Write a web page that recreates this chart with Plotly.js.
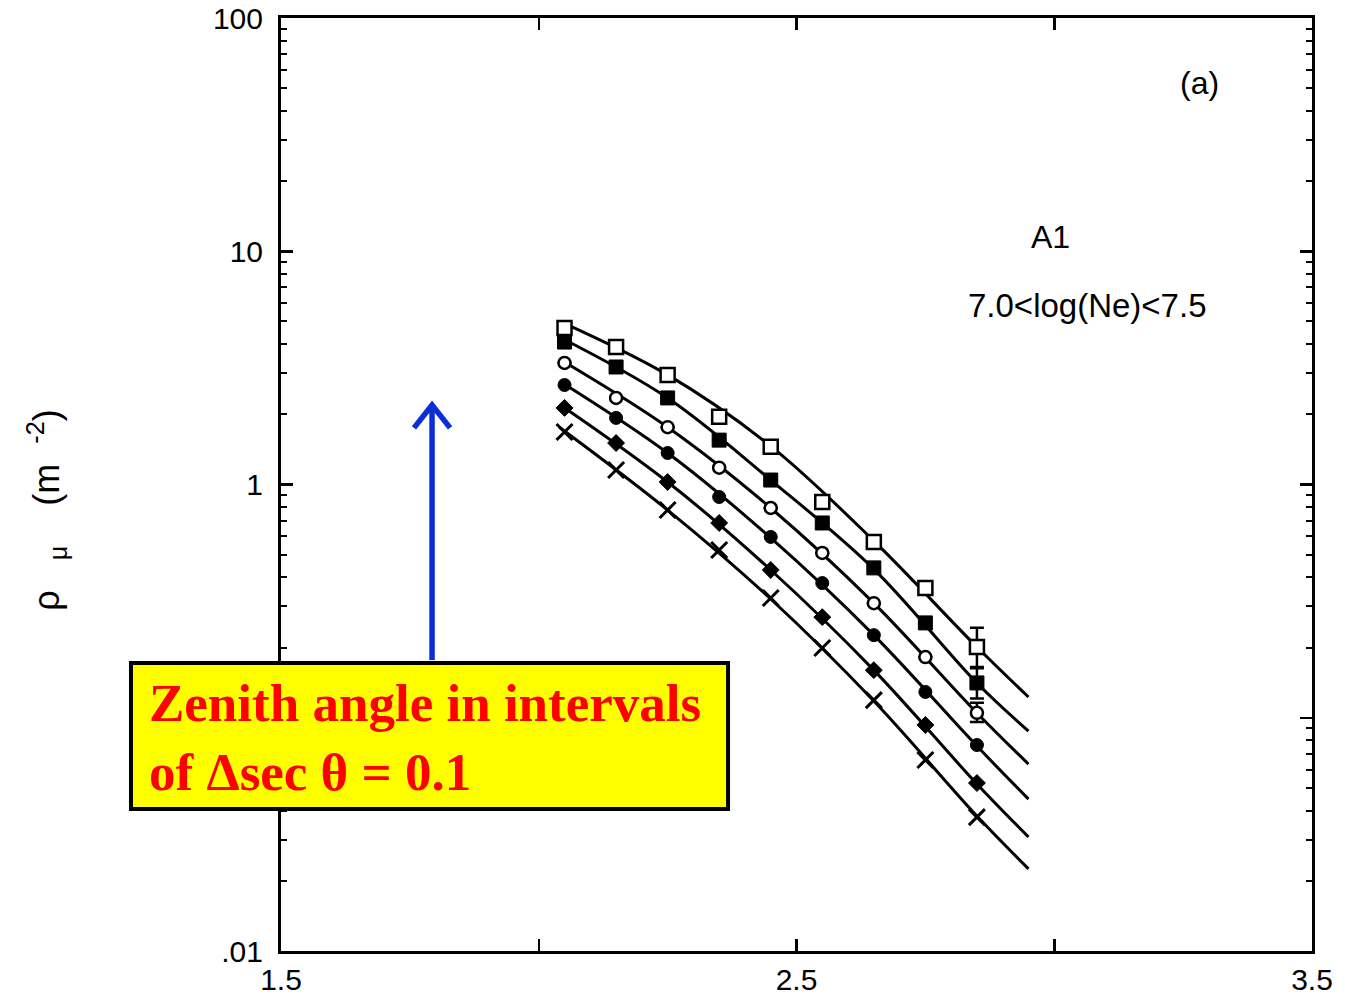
<!DOCTYPE html>
<html>
<head>
<meta charset="utf-8">
<script src="https://cdn.plot.ly/plotly-3.0.1.min.js"></script>
<style>
  html, body { margin: 0; padding: 0; background: #ffffff; }
  #chart { width: 1345px; height: 1001px; }
</style>
</head>
<body>
<div id="chart"></div>
<script>
// Muon density vs. core distance, A1 detector, 7.0 < log(Ne) < 7.5,
// six zenith-angle bins (steps of 0.1 in sec θ).
const logR = [2.05, 2.15, 2.25, 2.35, 2.45, 2.55, 2.65, 2.75, 2.85];

const rho1 = [4.69, 3.89, 2.95, 1.95, 1.45, 0.841, 0.567, 0.360, 0.201];
const rho2 = [4.08, 3.19, 2.35, 1.55, 1.045, 0.684, 0.439, 0.255, 0.141];
const rho3 = [3.32, 2.35, 1.76, 1.18, 0.793, 0.509, 0.310, 0.182, 0.105];
const rho4 = [2.67, 1.93, 1.365, 0.884, 0.596, 0.378, 0.226, 0.129, 0.0764];
const rho5 = [2.13, 1.506, 1.025, 0.684, 0.430, 0.270, 0.160, 0.0931, 0.0525];
const rho6 = [1.68, 1.154, 0.777, 0.524, 0.326, 0.199, 0.119, 0.0659, 0.0375];

// fitted lateral-distribution curves
const fitR = [2.04, 2.25, 2.45, 2.65, 2.85, 2.95];
const fit1 = [5.02, 2.95, 1.46, 0.573, 0.201, 0.1227];
const fit2 = [4.29, 2.35, 1.045, 0.434, 0.141, 0.0877];
const fit3 = [3.45, 1.76, 0.793, 0.310, 0.1048, 0.0633];
const fit4 = [2.78, 1.365, 0.590, 0.226, 0.0756, 0.0448];
const fit5 = [2.21, 1.025, 0.430, 0.160, 0.0520, 0.0308];
const fit6 = [1.76, 0.777, 0.323, 0.118, 0.0379, 0.0225];

// error bars on the outermost point of the first three bins
const errUp = [0.042, 0.022, 0.011];
const errDown = [0.036, 0.020, 0.009];

const xTicks = [1.5, 2.0, 2.5, 3.0, 3.5];
const xTickText = ['1.5', '', '2.5', '', '3.5'];
const yTicks = [0.01, 0.1, 1, 10, 100];
const yTickText = ['.01', '', '1', '10', '100'];

const pointSets = [rho1, rho2, rho3, rho4, rho5, rho6];
const fitSets = [fit1, fit2, fit3, fit4, fit5, fit6];

const markerStyles = [
  { symbol: 'square', size: 14, color: '#ffffff', line: { color: '#000', width: 2.5 } },
  { symbol: 'square', size: 14, color: '#000', line: { color: '#000', width: 1 } },
  { symbol: 'circle', size: 12, color: '#ffffff', line: { color: '#000', width: 2.5 } },
  { symbol: 'circle', size: 13, color: '#000', line: { color: '#000', width: 1 } },
  { symbol: 'diamond', size: 13, color: '#000', line: { color: '#000', width: 1 } },
  { symbol: 'x-thin', size: 16, color: '#000', line: { color: '#000', width: 3 } }
];

function errArray(vals, idx) {
  return logR.map((_, i) => (i === logR.length - 1 && idx < vals.length) ? vals[idx] : null);
}

const traces = [];
fitSets.forEach((f) => {
  traces.push({
    x: fitR, y: f, type: 'scatter', mode: 'lines',
    line: { color: '#000', width: 3, shape: 'spline', smoothing: 1 },
    hoverinfo: 'skip', showlegend: false
  });
});
pointSets.forEach((p, k) => {
  const t = {
    x: logR, y: p, type: 'scatter', mode: 'markers',
    marker: markerStyles[k], showlegend: false
  };
  if (k < errUp.length) {
    t.error_y = {
      type: 'data', symmetric: false,
      array: errArray(errUp, k), arrayminus: errArray(errDown, k),
      color: '#000', thickness: 2.5, width: 7
    };
  }
  traces.push(t);
});

const sans = 'Liberation Sans, Arial, sans-serif';
const axisFont = { family: sans, size: 30, color: '#000' };

// arrow geometry (paper units): shaft at x = 1.793 in data units
const arrowX = (1.793 - 1.5) / 2.0;
const arrowTop = 0.5852, arrowBottom = 0.3119;
const headDx = 0.0175, headDy = 0.0245;

const layout = {
  width: 1345, height: 1001,
  margin: { l: 281, r: 33, t: 18, b: 50 },
  paper_bgcolor: '#ffffff', plot_bgcolor: '#ffffff',
  font: axisFont,
  showlegend: false,
  xaxis: {
    range: [1.5, 3.5], tickvals: xTicks, ticktext: xTickText,
    ticks: 'inside', ticklen: 12, tickwidth: 2.5, tickcolor: '#000',
    showline: true, linecolor: '#000', linewidth: 3, mirror: 'ticks',
    showgrid: false, zeroline: false, tickfont: axisFont, ticklabelstandoff: 0
  },
  yaxis: {
    type: 'log', range: [-2, 2], tickvals: yTicks, ticktext: yTickText,
    ticks: 'inside', ticklen: 12, tickwidth: 2.5, tickcolor: '#000',
    minor: { ticks: 'inside', ticklen: 6, tickwidth: 2, tickcolor: '#000', dtick: 'D1', showgrid: false },
    showline: true, linecolor: '#000', linewidth: 3, mirror: 'ticks',
    showgrid: false, zeroline: false, tickfont: axisFont, ticklabelstandoff: 9
  },
  shapes: [
    {
      type: 'rect', xref: 'paper', yref: 'paper', layer: 'above',
      x0: -0.1455, x1: 0.4336, y0: 0.1522, y1: 0.3087,
      fillcolor: '#ffff00', line: { color: '#000', width: 4 }
    },
    {
      type: 'line', xref: 'paper', yref: 'paper', layer: 'above',
      x0: arrowX, x1: arrowX, y0: arrowBottom, y1: arrowTop - 0.004,
      line: { color: '#0a2fd6', width: 5.5 }
    },
    {
      type: 'path', xref: 'paper', yref: 'paper', layer: 'above',
      path: 'M ' + (arrowX - headDx) + ' ' + (arrowTop - headDy) +
            ' L ' + arrowX + ' ' + arrowTop +
            ' L ' + (arrowX + headDx) + ' ' + (arrowTop - headDy),
      line: { color: '#0a2fd6', width: 5.5 }
    }
  ],
  annotations: [
    {
      xref: 'paper', yref: 'paper', x: 0.891, y: 0.930,
      text: '(a)', showarrow: false, xanchor: 'center', yanchor: 'middle',
      font: { family: sans, size: 32, color: '#000' }
    },
    {
      xref: 'paper', yref: 'paper', x: 0.746, y: 0.765,
      text: 'A1', showarrow: false, xanchor: 'center', yanchor: 'middle',
      font: { family: sans, size: 32, color: '#000' }
    },
    {
      xref: 'paper', yref: 'paper', x: 0.782, y: 0.692,
      text: '7.0&lt;log(Ne)&lt;7.5', showarrow: false, xanchor: 'center', yanchor: 'middle',
      font: { family: sans, size: 33, color: '#000' }
    },
    {
      xref: 'paper', yref: 'paper', x: -0.227, y: 0.473,
      text: 'ρ   <sub>μ</sub>    (m  <sup>-2</sup>)', textangle: -90, showarrow: false,
      xanchor: 'center', yanchor: 'middle',
      font: { family: sans, size: 36, color: '#000' }
    },
    {
      xref: 'paper', yref: 'paper', x: -0.1300, y: 0.2290,
      text: 'Zenith angle in intervals<br>of Δsec θ = 0.1', showarrow: false,
      xanchor: 'left', yanchor: 'middle', align: 'left',
      font: { family: 'Liberation Serif, Times New Roman, serif', size: 53, color: '#ff0000', weight: 'bold' }
    }
  ]
};

Plotly.newPlot('chart', traces, layout, { displayModeBar: false, staticPlot: true });
</script>
</body>
</html>
